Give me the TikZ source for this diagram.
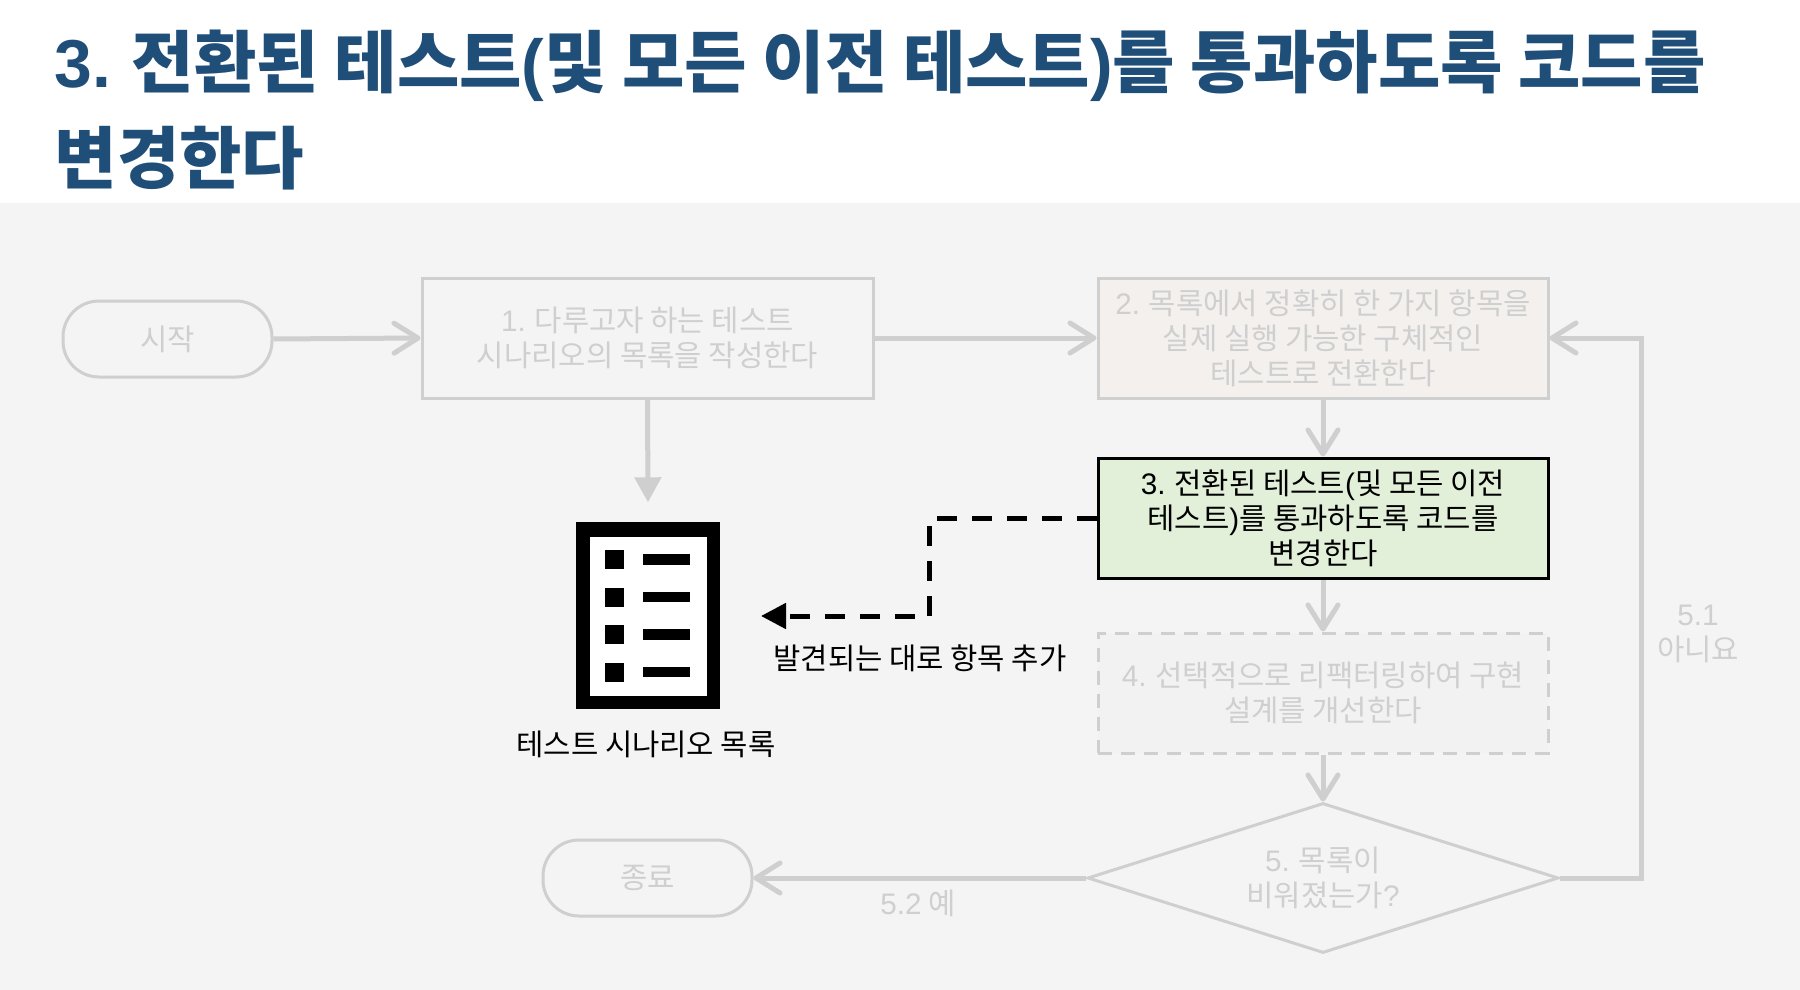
\documentclass[tikz,border=0pt]{standalone}
\usepackage{fontspec}
\setmainfont{Noto Sans CJK KR}
\newfontfamily\latinpart{Liberation Sans}
\usetikzlibrary{arrows.meta, shapes.geometric}

\definecolor{titleblue}{HTML}{1F4E79}
\definecolor{panelgrey}{HTML}{F4F4F4}
\definecolor{fadegrey}{HTML}{CFCFCF}
\definecolor{stepgreen}{HTML}{E2EFD9}
\definecolor{stepsand}{HTML}{F3F0ED}
\definecolor{stepmist}{HTML}{F2F2F2}

\newcommand{\lat}[1]{{\latinpart #1}}

\tikzset{
    fadebox/.style={draw=fadegrey, line width=.03cm, text=fadegrey, align=center, inner sep=0,
        minimum width=4.5cm, minimum height=1.2cm, font=\fontsize{8.45}{9.96}\selectfont},
    endcap/.style={fadebox, rounded corners=.36cm, minimum width=2.09cm, minimum height=.76cm},
    fadelabel/.style={text=fadegrey, align=center, inner sep=0, font=\fontsize{8.45}{9.96}\selectfont},
    blacklabel/.style={text=black, align=center, inner sep=0, font=\fontsize{8.45}{9.96}\selectfont},
    fadearrow/.style={draw=fadegrey, line width=.05cm, -{Straight Barb[length=.24cm, width=.3cm, round]}},
    addarrow/.style={draw=black, line width=.05cm, dash pattern=on .2cm off .15cm,
        -{Triangle[length=.25cm, width=.25cm]}},
}

\begin{document}
\begin{tikzpicture}

\useasboundingbox (0,0) rectangle (18,-9.9);
\fill[white] (0,0) rectangle (18,-2.03);
\fill[panelgrey] (0,-2.03) rectangle (18,-9.9);

\node[anchor=west, align=left, inner sep=0, text=titleblue, font=\fontsize{19.3}{27.3}\selectfont\bfseries] (title) at (.54, -1.1)
    {\lat{3.} 전환된 테스트\lat{(}및 모든 이전 테스트\lat{)}를 통과하도록 코드를\\변경한다};

\node[endcap] (start) at (1.675, -3.39) {시작};
\node[fadebox, minimum width=4.51cm] (stepone) at (6.475, -3.38) {\lat{1.} 다루고자 하는 테스트\\시나리오의 목록을 작성한다};
\node[fadebox, fill=stepsand] (steptwo) at (13.23, -3.38) {\lat{2.} 목록에서 정확히 한 가지 항목을\\실제 실행 가능한 구체적인\\테스트로 전환한다};
\node[fadebox, draw=black, fill=stepgreen, text=black] (stepthree) at (13.23, -5.18) {\lat{3.} 전환된 테스트\lat{(}및 모든 이전\\테스트\lat{)}를 통과하도록 코드를\\변경한다};
\node[fadebox, dash pattern=on .14cm off .09cm, fill=stepmist] (stepfour) at (13.23, -6.93) {\lat{4.} 선택적으로 리팩터링하여 구현\\설계를 개선한다};
\node[fadebox, diamond, aspect=3.15, minimum width=4.71cm, minimum height=1.5cm] (stepfive) at (13.23, -8.78) {\lat{5.} 목록이\\비워졌는가\lat{?}};
\node[endcap] (finish) at (6.475, -8.78) {종료};

\begin{scope}[shift={(6.48, -6.155)}]
    \node[fill=black, minimum width=1.445cm, minimum height=1.87cm, inner sep=0] (listicon) at (0, 0) {};
    \node[fill=white, minimum width=1.17cm, minimum height=1.59cm, inner sep=0] (listpage) at (0, -.005) {};
    \foreach \row in {0,...,3} {
        \fill[black] (-.43, .655-.375*\row) rectangle ++(.19, -.19);
        \fill[black] (-.055, .615-.375*\row) rectangle ++(.475, -.105);
    }
\end{scope}

\node[blacklabel] (listname) at (6.46, -7.44) {테스트 시나리오 목록};
\node[blacklabel] (addname) at (9.2, -6.58) {발견되는 대로 항목 추가};
\node[fadelabel] (nolabel) at (16.98, -6.34) {\lat{5.1}\\아니요};
\node[fadelabel] (yeslabel) at (9.18, -9.03) {\lat{5.2} 예};

\coordinate (loopturn) at (16.41, -3.38);
\coordinate (addbend) at (9.295, -6.16);
\coordinate (addtip) at (7.61, -6.16);

\draw[fadearrow] (start.east) -- (stepone.west);
\draw[fadearrow] (stepone.east) -- (steptwo.west);
\draw[fadearrow] (steptwo.south) -- (stepthree.north);
\draw[fadearrow] (stepthree.south) -- (stepfour.north);
\draw[fadearrow] (stepfour.south) -- (stepfive.north);
\draw[fadearrow] (stepfive.west) -- (finish.east);
\draw[fadearrow] (stepfive.east) -| (loopturn) -- (steptwo.east);
\draw[fadearrow, -{Triangle[length=.25cm, width=.26cm]}] (stepone.south) -- ([yshift=.19cm]listicon.north);
\draw[addarrow] (stepthree.west) -| (addbend) -- (addtip);

\end{tikzpicture}
\end{document}
